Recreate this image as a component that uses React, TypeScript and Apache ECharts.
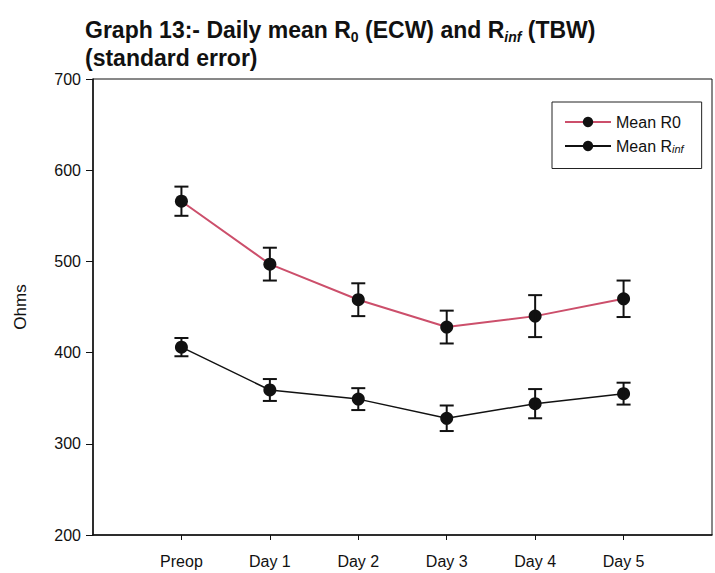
import React, { useEffect, useRef } from "react";
import * as echarts from "echarts";

// Days of measurement
const days = ["Preop", "Day 1", "Day 2", "Day 3", "Day 4", "Day 5"];
// Mean R0 (ECW) and its standard error, ohms
const r0Mean = [566, 497, 458, 428, 440, 459];
const r0Se = [16, 18, 18, 18, 23, 20];
// Mean Rinf (TBW) and its standard error, ohms
const rInfMean = [406, 359, 349, 328, 344, 355];
const rInfSe = [10, 12, 12, 14, 16, 12];
// Y axis ticks
const yTicks = [200, 300, 400, 500, 600, 700];

const FONT = "'Liberation Sans Narrow', 'Liberation Sans', Arial, sans-serif";
const BOLD = "'Liberation Sans', Arial, sans-serif";
const RED = "#cc4f6b";

// padded categories so the data sits one slot in from the axis start
const cats = ["", ...days, ""];
const pad = (arr: number[]) => [null, ...arr, null];

function errorSeries(name: string, mean: number[], se: number[]) {
  return {
    type: "custom",
    name,
    z: 5,
    silent: true,
    data: mean.map((m, i) => [i + 1, m - se[i], m + se[i]]),
    renderItem: (params: any, api: any) => {
      const lo = api.coord([api.value(0), api.value(1)]);
      const hi = api.coord([api.value(0), api.value(2)]);
      const w = 7;
      const style = { stroke: "#111", lineWidth: 2 };
      return {
        type: "group",
        children: [
          { type: "line", shape: { x1: lo[0], y1: lo[1], x2: hi[0], y2: hi[1] }, style },
          { type: "line", shape: { x1: lo[0] - w, y1: lo[1], x2: lo[0] + w, y2: lo[1] }, style },
          { type: "line", shape: { x1: hi[0] - w, y1: hi[1], x2: hi[0] + w, y2: hi[1] }, style },
        ],
      };
    },
  };
}

export default function App() {
  const ref = useRef<HTMLDivElement>(null);
  useEffect(() => {
    if (!ref.current) return;
    const chart = echarts.init(ref.current, null, { renderer: "svg" });
    chart.setOption({
      animation: false,
      backgroundColor: "#fff",
      title: {
        left: 80,
        top: 11,
        text:
          "{b|Graph 13:- Daily mean R}{s|0}{b| (ECW) and R}{si|inf}{b| (TBW)}\n{b|(standard error)}",
        textStyle: {
          rich: {
            b: { fontFamily: BOLD, fontWeight: "bold", fontSize: 23, color: "#111", lineHeight: 28 },
            s: { fontFamily: BOLD, fontWeight: "bold", fontSize: 14, color: "#111", verticalAlign: "bottom", padding: [9, 0, 0, 0] },
            si: { fontFamily: BOLD, fontWeight: "bold", fontStyle: "italic", fontSize: 14, color: "#111", verticalAlign: "bottom", padding: [9, 0, 0, 0] },
          },
        },
      },
      legend: {
        left: 552,
        top: 102,
        orient: "vertical",
        borderColor: "#222",
        borderWidth: 1,
        padding: [12, 18, 14, 12],
        itemGap: 8,
        itemWidth: 46,
        itemHeight: 13,
        data: ["Mean R0", "Mean Rinf"],
        formatter: (n: string) => (n === "Mean Rinf" ? "{t|Mean R}{i|inf}" : "{t|Mean R0}"),
        textStyle: {
          rich: {
            t: { fontFamily: FONT, fontSize: 16, color: "#111" },
            i: { fontFamily: FONT, fontSize: 11, fontStyle: "italic", color: "#111", verticalAlign: "bottom", padding: [6, 0, 0, 0] },
          },
        },
      },
      grid: { left: 93, top: 79, width: 627, height: 456, show: true, borderColor: "#111", borderWidth: 1 },
      xAxis: {
        type: "category",
        data: cats,
        boundaryGap: false,
        axisLine: { lineStyle: { color: "#111", width: 1.5 } },
        axisTick: { length: 5, interval: (i: number, v: string) => v !== "", lineStyle: { color: "#111" } },
        axisLabel: { fontFamily: FONT, fontSize: 16, color: "#111", margin: 18, interval: 0 },
        splitLine: { show: false },
      },
      yAxis: {
        type: "value",
        min: yTicks[0],
        max: yTicks[yTicks.length - 1],
        interval: 100,
        name: "Ohms",
        nameLocation: "middle",
        nameGap: 64,
        nameTextStyle: { fontFamily: FONT, fontSize: 17, color: "#111" },
        axisLine: { show: true, lineStyle: { color: "#111", width: 1.5 } },
        axisTick: { show: true, length: 7, lineStyle: { color: "#111" } },
        axisLabel: { fontFamily: FONT, fontSize: 16, color: "#111", margin: 12 },
        splitLine: { show: false },
      },
      series: [
        {
          name: "Mean R0",
          type: "line",
          data: pad(r0Mean),
          symbol: "circle",
          symbolSize: 13,
          itemStyle: { color: "#111" },
          lineStyle: { color: RED, width: 2 },
          z: 3,
        },
        {
          name: "Mean Rinf",
          type: "line",
          data: pad(rInfMean),
          symbol: "circle",
          symbolSize: 13,
          itemStyle: { color: "#111" },
          lineStyle: { color: "#111", width: 1.5 },
          z: 3,
        },
        errorSeries("r0err", r0Mean, r0Se),
        errorSeries("rinferr", rInfMean, rInfSe),
      ],
    });
    return () => chart.dispose();
  }, []);
  return <div ref={ref} style={{ width: 715, height: 573, position: "absolute", left: 0, top: 0 }} />;
}
